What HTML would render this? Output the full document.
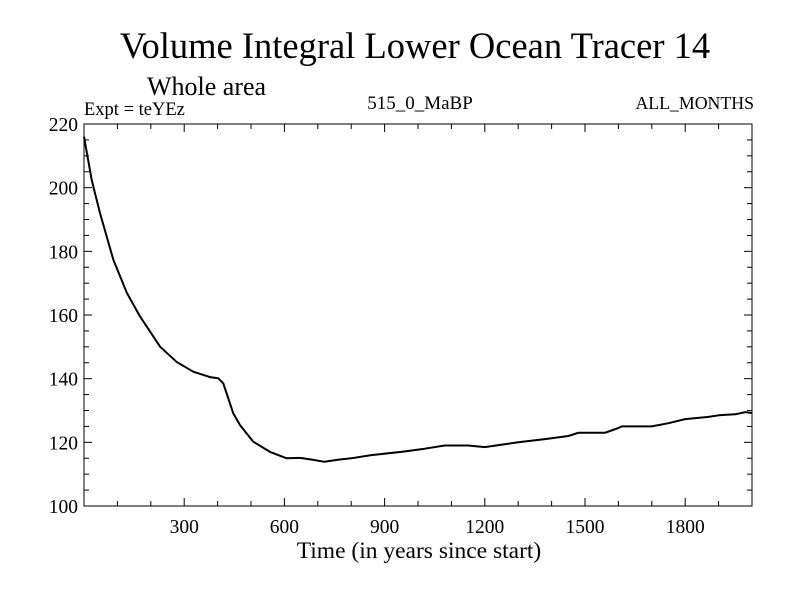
<!DOCTYPE html>
<html><head><meta charset="utf-8"><style>
body{margin:0;background:#fff;}
svg text{font-family:"Liberation Serif",serif;fill:#000;}
</style></head><body>
<svg width="800" height="600" xmlns="http://www.w3.org/2000/svg">
<text x="415" y="58" font-size="36.5" text-anchor="middle">Volume Integral Lower Ocean Tracer 14</text>
<text x="147" y="95" font-size="26">Whole area</text>
<text x="84" y="115" font-size="18.5">Expt = teYEz</text>
<text x="420" y="109" font-size="19" text-anchor="middle">515_0_MaBP</text>
<text x="754" y="109" font-size="17.8" text-anchor="end">ALL_MONTHS</text>
<g id="axes"></g>
<text x="419" y="558" font-size="23.5" text-anchor="middle">Time (in years since start)</text>
</svg>
<script>
const years=[0,23,48,88,128,168,228,277,327,377,402,417,447,467,507,557,607,647,680,720,760,800,860,950,1020,1080,1150,1200,1300,1380,1450,1480,1520,1560,1600,1610,1700,1750,1800,1870,1900,1950,1980,2000];
const values=[216,202.4,192,177.3,167,159.5,150,145.3,142.2,140.5,140.1,138.5,129.1,125.4,120.2,117,115,115.1,114.6,113.9,114.5,115,116,117,118,119,119,118.5,120,121,122,123,123,123,124.5,125,125,126,127.3,128,128.5,128.8,129.5,129.2];
const xTicks=[300,600,900,1200,1500,1800];
const yTicks=[100,120,140,160,180,200,220];
const L=84,R=752,T=124,B=506,X0=0,X1=2000,Y0=100,Y1=220;
const sx=v=>L+(v-X0)/(X1-X0)*(R-L);
const sy=v=>B-(v-Y0)/(Y1-Y0)*(B-T);
const NS="http://www.w3.org/2000/svg";
const g=document.getElementById('axes');
function mk(t,a){const e=document.createElementNS(NS,t);for(const k in a)e.setAttribute(k,a[k]);g.appendChild(e);return e;}
const frame=mk('rect',{x:L,y:T,width:R-L,height:B-T,fill:'none',stroke:'#000','stroke-width':1});


for(let v=100;v<X1;v+=100){const big=v%300===0;const len=big?8:5;
 const a=mk('line',{x1:sx(v),x2:sx(v),y1:B,y2:B-len,stroke:'#000'});
 
 
 const b=mk('line',{x1:sx(v),x2:sx(v),y1:T,y2:T+len,stroke:'#000'});
 
 }
for(let v=105;v<Y1;v+=5){const big=v%20===0;const len=big?8:5;
 const a=mk('line',{x1:L,x2:L+len,y1:sy(v),y2:sy(v),stroke:'#000'});
 
 
 const b=mk('line',{x1:R,x2:R-len,y1:sy(v),y2:sy(v),stroke:'#000'});
 
 }
xTicks.forEach(v=>{const t=mk('text',{x:sx(v),y:B+27,'font-size':19.5,'text-anchor':'middle'});t.textContent=v;
 
 });
yTicks.forEach(v=>{const t=mk('text',{x:L-6,y:sy(v)+7,'font-size':19.5,'text-anchor':'end'});t.textContent=v;
 
 });
const d=years.map((y,i)=>(i?'L':'M')+sx(y).toFixed(1)+','+sy(values[i]).toFixed(1)).join('');
const p=mk('path',{d:d,fill:'none',stroke:'#000','stroke-width':2,'stroke-linejoin':'round'});


</script>
</body></html>
